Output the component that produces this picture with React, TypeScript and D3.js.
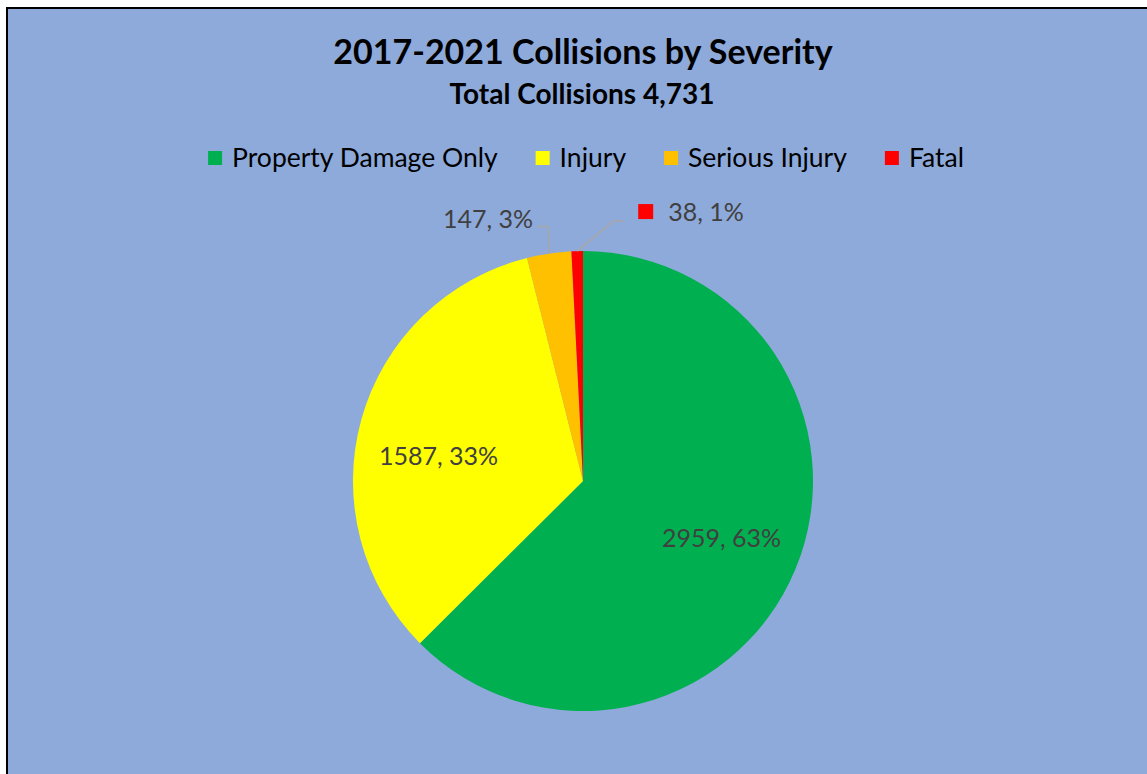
import React, { useEffect, useRef } from "react";
import * as d3 from "d3";

const categories = ["Property Damage Only", "Injury", "Serious Injury", "Fatal"];
const values = [2959, 1587, 147, 38];
const percents = ["63%", "33%", "3%", "1%"];
const colors = ["#00B050", "#FFFF00", "#FFC000", "#FF0000"];
const title = "2017-2021 Collisions by Severity";
const subtitle = "Total Collisions 4,731";

const W = 1147;
const H = 774;
const FONT = "Lato, 'Open Sans', sans-serif";

export default function App() {
  const ref = useRef<SVGSVGElement>(null);

  useEffect(() => {
    const svg = d3.select(ref.current);
    svg.selectAll("*").remove();

    svg.append("rect").attr("width", W).attr("height", H).attr("fill", "#ffffff");
    svg
      .append("rect")
      .attr("x", 7)
      .attr("y", 8)
      .attr("width", W + 10)
      .attr("height", H + 10)
      .attr("fill", "#8EAADB")
      .attr("stroke", "#000")
      .attr("stroke-width", 2);

    svg
      .append("text")
      .attr("x", 583)
      .attr("y", 64)
      .attr("text-anchor", "middle")
      .attr("font-family", FONT)
      .attr("font-weight", 700)
      .attr("font-size", 34)
      .attr("fill", "#000")
      .text(title);

    svg
      .append("text")
      .attr("x", 582)
      .attr("y", 104)
      .attr("text-anchor", "middle")
      .attr("font-family", FONT)
      .attr("font-weight", 700)
      .attr("font-size", 28)
      .attr("fill", "#000")
      .text(subtitle);

    // Legend
    const legend = svg.append("g");
    const items = legend.selectAll("g").data(categories).join("g");
    items
      .append("rect")
      .attr("width", 14)
      .attr("height", 14)
      .attr("y", -7)
      .attr("fill", (_, i) => colors[i]);
    items
      .append("text")
      .attr("x", 24)
      .attr("y", 0)
      .attr("dy", "0.35em")
      .attr("font-family", FONT)
      .attr("font-size", 26.5)
      .attr("fill", "#000")
      .text((d) => d);
    let xPos = 0;
    const offsets: number[] = [];
    items.each(function () {
      offsets.push(xPos);
      const t = d3.select(this).select("text").node() as SVGTextElement;
      xPos += 24 + t.getComputedTextLength() + 38;
    });
    const totalW = xPos - 38;
    items.attr("transform", (_, i) => `translate(${offsets[i]},0)`);
    legend.attr("transform", `translate(${586 - totalW / 2},158)`);

    // Pie
    const cx = 583;
    const cy = 481;
    const r = 230;
    const pie = d3
      .pie<number>()
      .sort(null)
      .value((d) => d)
      .startAngle(0)
      .endAngle(2 * Math.PI);
    const arcs = pie(values);
    const arc = d3.arc<d3.PieArcDatum<number>>().innerRadius(0).outerRadius(r);
    const labelArc = d3.arc<d3.PieArcDatum<number>>().innerRadius(150).outerRadius(150);
    const g = svg.append("g").attr("transform", `translate(${cx},${cy})`);
    g.selectAll("path")
      .data(arcs)
      .join("path")
      .attr("d", arc)
      .attr("fill", (_, i) => colors[i]);

    const edge = (a: d3.PieArcDatum<number>) => {
      const m = (a.startAngle + a.endAngle) / 2;
      return [r * Math.sin(m), -r * Math.cos(m)];
    };

    // Inside labels (large slices)
    arcs.forEach((a, i) => {
      if (i > 1) return;
      const [x, y] = labelArc.centroid(a);
      g.append("text")
        .attr("x", x)
        .attr("y", y + (i === 1 ? 15 : 0))
        .attr("text-anchor", "middle")
        .attr("dy", "0.35em")
        .attr("font-family", FONT)
        .attr("font-size", 25)
        .attr("fill", "#404040")
        .text(`${values[i]}, ${percents[i]}`);
    });

    // Serious Injury: outside label with elbow leader
    {
      const a = arcs[2];
      const [ex, ey] = edge(a);
      const elbowY = ey - 27;
      g.append("path")
        .attr("d", `M${ex},${ey}L${ex - 1},${elbowY}L${ex - 12},${elbowY}`)
        .attr("fill", "none")
        .attr("stroke", "#A6A6A6")
        .attr("stroke-width", 1.5);
      g.append("text")
        .attr("x", ex - 16)
        .attr("y", elbowY)
        .attr("text-anchor", "end")
        .attr("dy", "0.05em")
        .attr("font-family", FONT)
        .attr("font-size", 25)
        .attr("fill", "#404040")
        .text(`${values[2]}, ${percents[2]}`);
    }

    // Fatal: outside label with legend key
    {
      const a = arcs[3];
      const [ex, ey] = edge(a);
      const elbowY = ey - 30;
      g.append("path")
        .attr("d", `M${ex},${ey}L${ex + 36},${elbowY}L${ex + 47},${elbowY}`)
        .attr("fill", "none")
        .attr("stroke", "#A6A6A6")
        .attr("stroke-width", 1.5);
      g.append("rect")
        .attr("x", ex + 61)
        .attr("y", elbowY - 17)
        .attr("width", 15)
        .attr("height", 15)
        .attr("fill", colors[3]);
      g.append("text")
        .attr("x", ex + 91)
        .attr("y", elbowY)
        .attr("font-family", FONT)
        .attr("font-size", 25)
        .attr("fill", "#404040")
        .text(`${values[3]}, ${percents[3]}`);
    }
  }, []);

  return (
    <svg
      ref={ref}
      width={W}
      height={H}
      style={{ position: "absolute", left: 0, top: 0, display: "block" }}
    />
  );
}
